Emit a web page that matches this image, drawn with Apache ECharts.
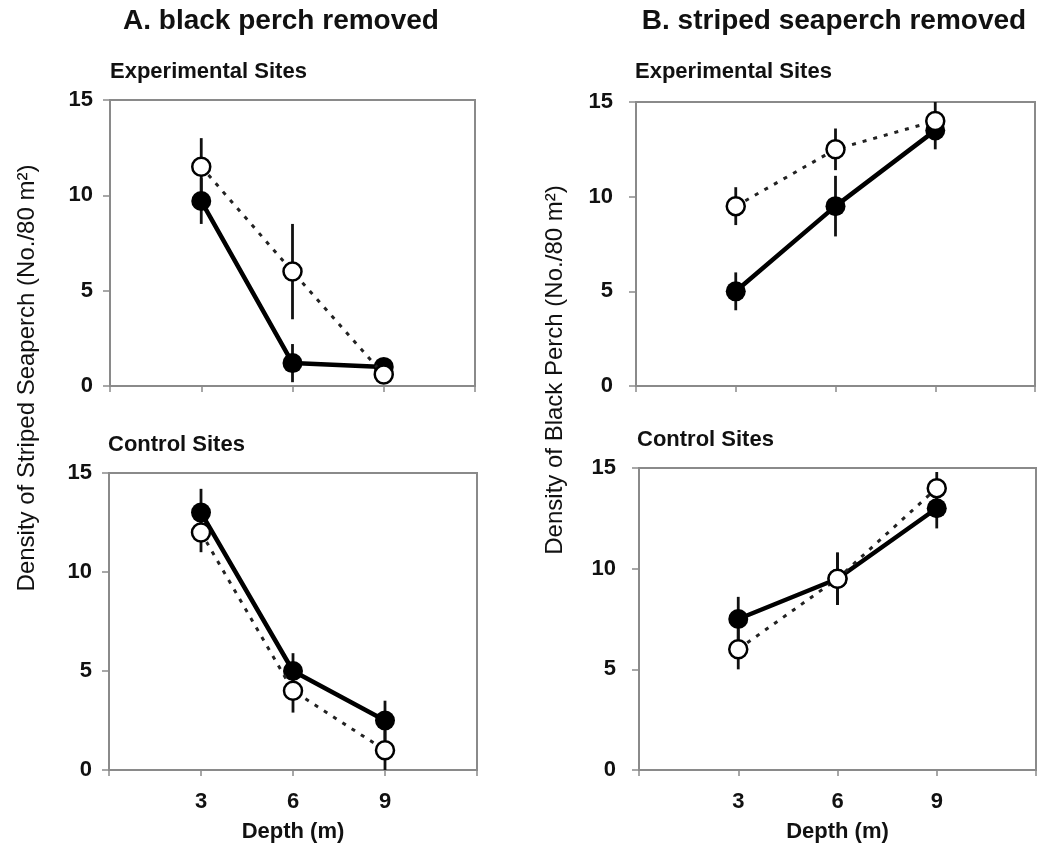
<!DOCTYPE html>
<html>
<head>
<meta charset="utf-8">
<script src="https://cdn.jsdelivr.net/npm/echarts@6/dist/echarts.min.js"></script>
<style>
html,body{margin:0;padding:0;background:#fff;}
#chart{width:1039px;height:846px;}
</style>
</head>
<body>
<div id="chart"></div>
<script>
// ---- data ----
var depths = [3, 6, 9];
var xTickLabels = ['3', '6', '9'];
var yTicks = [0, 5, 10, 15];

// Panel A: black perch removed (density of striped seaperch)
var aExpFilled   = [9.7, 1.2, 1.0];
var aExpFilledSE = [1.2, 1.0, 0.3];
var aExpOpen     = [11.5, 6.0, 0.6];
var aExpOpenSE   = [1.5, 2.5, 0.3];
var aCtlFilled   = [13.0, 5.0, 2.5];
var aCtlFilledSE = [1.2, 0.9, 1.0];
var aCtlOpen     = [12.0, 4.0, 1.0];
var aCtlOpenSE   = [1.0, 1.1, 1.0];

// Panel B: striped seaperch removed (density of black perch)
var bExpFilled   = [5.0, 9.5, 13.5];
var bExpFilledSE = [1.0, 1.6, 1.0];
var bExpOpen     = [9.5, 12.5, 14.0];
var bExpOpenSE   = [1.0, 1.1, 1.0];
var bCtlFilled   = [7.5, 9.5, 13.0];
var bCtlFilledSE = [1.1, 1.3, 1.0];
var bCtlOpen     = [6.0, 9.5, 14.0];
var bCtlOpenSE   = [1.0, 1.3, 0.8];

var FONT = '"Liberation Sans", Arial, sans-serif';
var GRAY = '#8a8a8a';

var chart = echarts.init(document.getElementById('chart'));

var grids = [
  {left: 110, top: 100, width: 365, height: 286},
  {left: 636, top: 102, width: 399, height: 284},
  {left: 109, top: 473, width: 368, height: 297},
  {left: 639, top: 468, width: 399, height: 302}
];
grids.forEach(function (g) {
  g.show = true; g.borderColor = GRAY; g.borderWidth = 2; g.backgroundColor = 'transparent';
});

function xAxisFor(i, showLabels) {
  return {
    type: 'value', gridIndex: i, min: 0, max: 12, interval: 3,
    axisLine: {show: true, lineStyle: {color: GRAY, width: 2}},
    axisTick: {show: true, length: 6, lineStyle: {color: GRAY, width: 1.5}},
    splitLine: {show: false},
    axisLabel: {
      show: showLabels, margin: 21,
      fontFamily: FONT, fontWeight: 'bold', fontSize: 22, color: '#111',
      formatter: function (v) { var k = depths.indexOf(v); return k >= 0 ? xTickLabels[k] : ''; }
    },
    name: showLabels ? 'Depth (m)' : '',
    nameLocation: 'middle', nameGap: 51,
    nameTextStyle: {fontFamily: FONT, fontWeight: 'bold', fontSize: 22, color: '#111'}
  };
}
function yAxisFor(i) {
  return {
    type: 'value', gridIndex: i, min: 0, max: 15, interval: 5,
    axisLine: {show: true, lineStyle: {color: GRAY, width: 2}},
    axisTick: {show: true, length: 7, lineStyle: {color: GRAY, width: 1.5}},
    splitLine: {show: false},
    axisLabel: {
      margin: (i % 2 === 0) ? 17 : 23, fontFamily: FONT, fontWeight: 'bold', fontSize: 22, color: '#111',
      formatter: function (v) { return yTicks.indexOf(v) >= 0 ? String(v) : ''; }
    }
  };
}

function pts(vals) { return depths.map(function (d, k) { return [d, vals[k]]; }); }
function errData(vals, se) { return depths.map(function (d, k) { return [d, vals[k] - se[k], vals[k] + se[k]]; }); }

function errSeries(i, vals, se) {
  return {
    type: 'custom', xAxisIndex: i, yAxisIndex: i, z: 2, silent: true,
    data: errData(vals, se),
    encode: {x: 0, y: [1, 2]},
    renderItem: function (params, api) {
      var p1 = api.coord([api.value(0), api.value(1)]);
      var p2 = api.coord([api.value(0), api.value(2)]);
      return {type: 'line', shape: {x1: p1[0], y1: p1[1], x2: p2[0], y2: p2[1]},
              style: {stroke: '#111', lineWidth: 2.8}};
    }
  };
}
function filledSeries(i, vals) {
  return {
    type: 'line', xAxisIndex: i, yAxisIndex: i, z: 3, data: pts(vals),
    symbol: 'circle', symbolSize: 20, showSymbol: true, animation: false,
    lineStyle: {color: '#000', width: 4.5},
    itemStyle: {color: '#000', borderColor: '#000', borderWidth: 0}
  };
}
function openSeries(i, vals) {
  return {
    type: 'line', xAxisIndex: i, yAxisIndex: i, z: 4, data: pts(vals),
    symbol: 'circle', symbolSize: 18, showSymbol: true, animation: false,
    lineStyle: {color: '#222', width: 3, type: [4, 7]},
    itemStyle: {color: '#fff', borderColor: '#000', borderWidth: 2.5}
  };
}

var panels = [
  [aExpFilled, aExpFilledSE, aExpOpen, aExpOpenSE],
  [bExpFilled, bExpFilledSE, bExpOpen, bExpOpenSE],
  [aCtlFilled, aCtlFilledSE, aCtlOpen, aCtlOpenSE],
  [bCtlFilled, bCtlFilledSE, bCtlOpen, bCtlOpenSE]
];
var series = [];
panels.forEach(function (p, i) {
  series.push(errSeries(i, p[0], p[1]));
  series.push(errSeries(i, p[2], p[3]));
  series.push(filledSeries(i, p[0]));
  series.push(openSeries(i, p[2]));
});

function txt(x, y, s, size, weight, align, rot) {
  return {
    type: 'text', x: x, y: y, rotation: rot || 0,
    style: {text: s, fontFamily: FONT, fontSize: size, fontWeight: weight,
            fill: '#111', align: align || 'left', verticalAlign: 'middle'}
  };
}

chart.setOption({
  animation: false,
  backgroundColor: '#fff',
  grid: grids,
  xAxis: [xAxisFor(0, false), xAxisFor(1, false), xAxisFor(2, true), xAxisFor(3, true)],
  yAxis: [yAxisFor(0), yAxisFor(1), yAxisFor(2), yAxisFor(3)],
  series: series,
  graphic: [
    txt(281, 21, 'A. black perch removed', 28, 'bold', 'center'),
    txt(834, 21, 'B. striped seaperch removed', 28, 'bold', 'center'),
    txt(110, 72, 'Experimental Sites', 22, 'bold'),
    txt(635, 72, 'Experimental Sites', 22, 'bold'),
    txt(108, 445, 'Control Sites', 22, 'bold'),
    txt(637, 440, 'Control Sites', 22, 'bold'),
    txt(27, 378, 'Density of Striped Seaperch (No./80 m\u00B2)', 24, 'normal', 'center', Math.PI / 2),
    txt(555, 370, 'Density of Black Perch (No./80 m\u00B2)', 24, 'normal', 'center', Math.PI / 2)
  ]
});
</script>
</body>
</html>
